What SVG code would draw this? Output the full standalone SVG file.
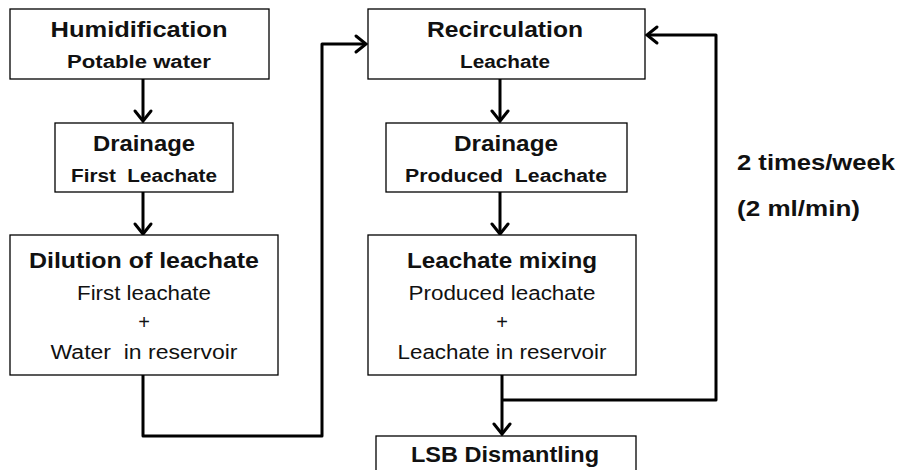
<svg xmlns="http://www.w3.org/2000/svg" width="902" height="470" viewBox="0 0 902 470">
<style>
.box{fill:#fff;stroke:#000;stroke-width:1.3}
.con{fill:none;stroke:#000;stroke-width:3;stroke-linejoin:round}
text{font-family:"Liberation Sans",Arial,sans-serif;fill:#111;text-anchor:middle}
.h{font-weight:bold;font-size:22px}
.s{font-weight:bold;font-size:18px}
.r{font-size:20px}
</style>
<defs>
<marker id="arr" markerUnits="userSpaceOnUse" markerWidth="24" markerHeight="24" viewBox="-14 -12 16 24" refX="0" refY="0" orient="auto">
<path d="M-10,-8 L0,0 L-10,8" fill="none" stroke="#000" stroke-width="3" stroke-linecap="round" stroke-linejoin="miter"/>
</marker>
</defs>
<g id="connectors">
<path class="con" d="M143,79 V121" marker-end="url(#arr)"/>
<path class="con" d="M143,192 V234" marker-end="url(#arr)"/>
<path class="con" d="M143,375 V436 H322 V44 H366" marker-end="url(#arr)"/>
<path class="con" d="M500,79 V121" marker-end="url(#arr)"/>
<path class="con" d="M500,192 V234" marker-end="url(#arr)"/>
<path class="con" d="M502,375 V434" marker-end="url(#arr)"/>
<path class="con" d="M502,400 H716 V35 H647" marker-end="url(#arr)"/>
</g>
<g id="humidification">
<rect class="box" x="10" y="9" width="259" height="70"/>
<text class="h" x="139" y="37" textLength="177" lengthAdjust="spacingAndGlyphs">Humidification</text>
<text class="s" x="139" y="68" textLength="144" lengthAdjust="spacingAndGlyphs">Potable water</text>
</g>
<g id="drainage1">
<rect class="box" x="55" y="123" width="178" height="69"/>
<text class="h" x="144" y="151" textLength="102" lengthAdjust="spacingAndGlyphs">Drainage</text>
<text class="s" x="144" y="182" textLength="146" lengthAdjust="spacingAndGlyphs" xml:space="preserve">First  Leachate</text>
</g>
<g id="dilution">
<rect class="box" x="10" y="235" width="268" height="140"/>
<text class="h" x="144" y="268" textLength="230" lengthAdjust="spacingAndGlyphs">Dilution of leachate</text>
<text class="r" x="144" y="300" textLength="134" lengthAdjust="spacingAndGlyphs">First leachate</text>
<text class="r" x="144" y="329">+</text>
<text class="r" x="144" y="359" textLength="187" lengthAdjust="spacingAndGlyphs" xml:space="preserve">Water  in reservoir</text>
</g>
<g id="recirculation">
<rect class="box" x="368" y="9" width="277" height="70"/>
<text class="h" x="505" y="37" textLength="156" lengthAdjust="spacingAndGlyphs">Recirculation</text>
<text class="s" x="505" y="68" textLength="90" lengthAdjust="spacingAndGlyphs">Leachate</text>
</g>
<g id="drainage2">
<rect class="box" x="386" y="123" width="241" height="69"/>
<text class="h" x="506" y="151" textLength="104" lengthAdjust="spacingAndGlyphs">Drainage</text>
<text class="s" x="506" y="182" textLength="202" lengthAdjust="spacingAndGlyphs" xml:space="preserve">Produced  Leachate</text>
</g>
<g id="mixing">
<rect class="box" x="368" y="235" width="268" height="140"/>
<text class="h" x="502" y="268" textLength="190" lengthAdjust="spacingAndGlyphs">Leachate mixing</text>
<text class="r" x="502" y="300" textLength="187" lengthAdjust="spacingAndGlyphs">Produced leachate</text>
<text class="r" x="502" y="329">+</text>
<text class="r" x="502" y="359" textLength="209" lengthAdjust="spacingAndGlyphs">Leachate in reservoir</text>
</g>
<g id="dismantling">
<rect class="box" x="376" y="436" width="260" height="40"/>
<text class="h" x="505" y="462" textLength="188" lengthAdjust="spacingAndGlyphs">LSB Dismantling</text>
</g>
<g id="label">
<text class="h" x="737" y="170" style="text-anchor:start" textLength="158" lengthAdjust="spacingAndGlyphs">2 times/week</text>
<text class="h" x="737" y="216" style="text-anchor:start" textLength="123" lengthAdjust="spacingAndGlyphs">(2 ml/min)</text>
</g>
</svg>
